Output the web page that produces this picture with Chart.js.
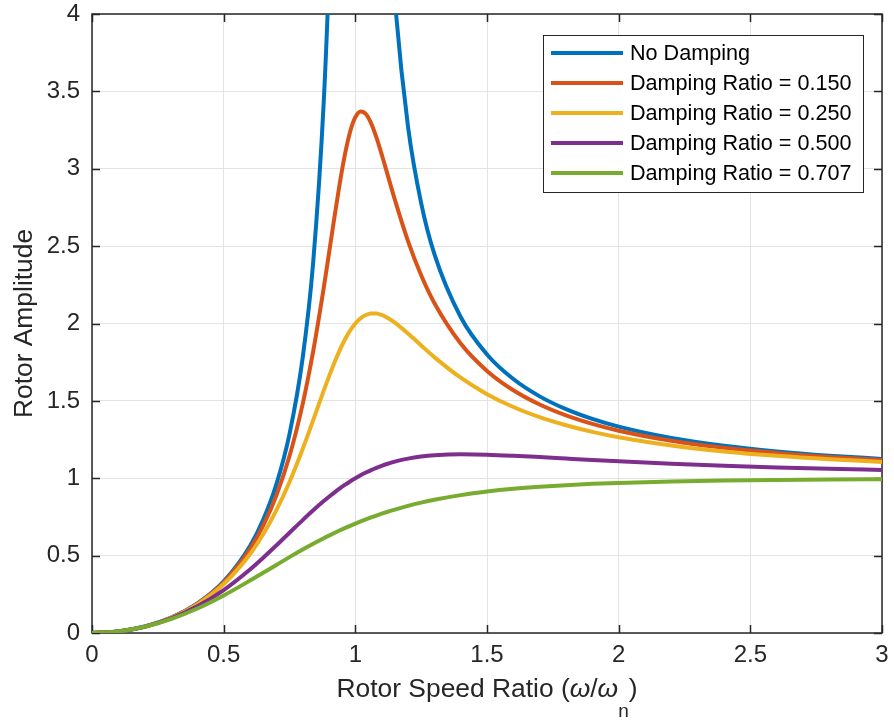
<!DOCTYPE html>
<html>
<head>
<meta charset="utf-8">
<script src="https://cdn.jsdelivr.net/npm/chart.js@4"></script>
<style>
  body { margin: 0; background: #fff; }
</style>
</head>
<body>
<canvas id="myChart" width="894" height="723"></canvas>
<script>
// speed ratio samples (omega / omega_n)
const speedRatio = [0, 0.1, 0.2, 0.3, 0.4, 0.5, 0.6, 0.65, 0.7, 0.75, 0.8, 0.84, 0.88, 0.9, 0.92, 0.94, 0.96, 0.98, 1.0, 1.02, 1.04, 1.06, 1.08, 1.1, 1.12, 1.15, 1.2, 1.25, 1.3, 1.4, 1.5, 1.6, 1.7, 1.8, 1.9, 2.0, 2.2, 2.4, 2.6, 2.8, 3.0];

const noDamping = [0, 0.0101, 0.0417, 0.0989, 0.1905, 0.3333, 0.5625, 0.7316, 0.9608, 1.2857, 1.7778, 2.3967, 3.4326, 4.2632, 5.5104, 7.591, null, null, null, null, null, 9.091, 7.010, 5.762, 4.931, 4.101, 3.2727, 2.7778, 2.4493, 2.0417, 1.8, 1.641, 1.5291, 1.4464, 1.3831, 1.3333, 1.2604, 1.2101, 1.1736, 1.1462, 1.125];
const damping150 = [0, 0.0101, 0.0416, 0.0984, 0.1886, 0.3269, 0.5415, 0.6931, 0.8884, 1.1434, 1.4792, 1.8208, 2.2300, 2.4534, 2.6797, 2.8963, 3.0877, 3.2374, 3.3333, 3.3707, 3.3539, 3.2933, 3.2024, 3.0934, 2.9764, 2.8003, 2.5329, 2.3112, 2.1322, 1.8705, 1.6936, 1.5685, 1.4763, 1.4061, 1.3513, 1.3074, 1.2422, 1.1965, 1.1630, 1.1377, 1.1179];
const damping250 = [0, 0.0101, 0.0414, 0.0976, 0.1853, 0.3162, 0.5093, 0.6376, 0.7922, 0.9762, 1.1893, 1.3757, 1.5661, 1.6582, 1.7453, 1.8249, 1.8949, 1.9536, 2.0, 2.0336, 2.0549, 2.0646, 2.0642, 2.0553, 2.0394, 2.0060, 1.9354, 1.8582, 1.7828, 1.6497, 1.5435, 1.4602, 1.3946, 1.3422, 1.2997, 1.2649, 1.2117, 1.1734, 1.1448, 1.1229, 1.1057];
const damping500 = [0, 0.0101, 0.0408, 0.0939, 0.1720, 0.2774, 0.4104, 0.4859, 0.5658, 0.6478, 0.7295, 0.7927, 0.8524, 0.8806, 0.9074, 0.9329, 0.9568, 0.9792, 1.0, 1.0192, 1.0368, 1.0529, 1.0674, 1.0805, 1.0922, 1.1073, 1.1267, 1.1399, 1.1483, 1.1546, 1.1523, 1.1456, 1.1369, 1.1275, 1.1182, 1.1094, 1.0936, 1.0805, 1.0697, 1.0608, 1.0534];
const damping707 = [0, 0.0100, 0.0400, 0.0896, 0.1580, 0.2425, 0.3387, 0.3892, 0.4400, 0.4903, 0.5391, 0.5765, 0.6123, 0.6294, 0.6461, 0.6621, 0.6777, 0.6927, 0.7071, 0.7210, 0.7343, 0.7470, 0.7592, 0.7708, 0.7819, 0.7976, 0.8214, 0.8423, 0.8606, 0.8908, 0.9138, 0.9315, 0.9450, 0.9555, 0.9637, 0.9701, 0.9793, 0.9853, 0.9892, 0.9920, 0.9939];

const seriesNames = ['No Damping', 'Damping Ratio = 0.150', 'Damping Ratio = 0.250', 'Damping Ratio = 0.500', 'Damping Ratio = 0.707'];
const seriesColors = ['#0072BD', '#D95319', '#EDB120', '#7E2F8E', '#77AC30'];
const seriesValues = [noDamping, damping150, damping250, damping500, damping707];

const FONT = '"Liberation Sans", Arial, Helvetica, sans-serif';
const INK = '#262626';

function toPoints(values) {
  return speedRatio.map((r, i) => ({ x: r, y: values[i] }));
}

const datasets = seriesValues.map((vals, i) => ({
  label: seriesNames[i],
  data: toPoints(vals),
  borderColor: seriesColors[i],
  backgroundColor: seriesColors[i],
  borderWidth: 4,
  pointRadius: 0,
  cubicInterpolationMode: 'monotone',
  spanGaps: false,
  clip: 0,
  order: seriesValues.length - 1 - i
}));

function noScalePadding(s) {
  s.paddingTop = 0;
  s.paddingBottom = 0;
  s.paddingLeft = 0;
  s.paddingRight = 0;
}

// axes box, inward ticks, axis titles and legend drawn MATLAB style
const matlabFrame = {
  id: 'matlabFrame',
  beforeDatasetsDraw(chart) {
    const { ctx, chartArea: a, scales } = chart;
    ctx.save();
    ctx.strokeStyle = INK;
    ctx.lineWidth = 1.5;
    ctx.strokeRect(a.left, a.top, a.right - a.left, a.bottom - a.top);
    const len = 8;
    ctx.beginPath();
    scales.x.ticks.forEach(t => {
      const px = Math.round(scales.x.getPixelForValue(t.value)) + 0.5;
      ctx.moveTo(px, a.bottom); ctx.lineTo(px, a.bottom - len);
      ctx.moveTo(px, a.top); ctx.lineTo(px, a.top + len);
    });
    scales.y.ticks.forEach(t => {
      const py = Math.round(scales.y.getPixelForValue(t.value)) + 0.5;
      ctx.moveTo(a.left, py); ctx.lineTo(a.left + len, py);
      ctx.moveTo(a.right, py); ctx.lineTo(a.right - len, py);
    });
    ctx.stroke();
    ctx.restore();
  },
  afterDraw(chart) {
    const { ctx, chartArea: a } = chart;
    ctx.save();
    ctx.fillStyle = INK;

    // y title
    ctx.save();
    ctx.translate(32, (a.top + a.bottom) / 2);
    ctx.rotate(-Math.PI / 2);
    ctx.font = '26.4px ' + FONT;
    ctx.textAlign = 'center';
    ctx.textBaseline = 'alphabetic';
    ctx.fillText('Rotor Amplitude', 0, 0);
    ctx.restore();

    // x title with italic omegas and subscript n
    const normal = '26.4px ' + FONT;
    const italic = 'italic 26.4px ' + FONT;
    const parts = [
      { t: 'Rotor Speed Ratio (', f: normal, dy: 0 },
      { t: 'ω', f: italic, dy: 0 },
      { t: '/', f: normal, dy: 0 },
      { t: 'ω', f: italic, dy: 0 },
      { t: 'n', f: '19px ' + FONT, dy: 20 },
      { t: ')', f: normal, dy: 0 }
    ];
    let total = 0;
    parts.forEach(p => { ctx.font = p.f; p.w = ctx.measureText(p.t).width; total += p.w; });
    let x = (a.left + a.right) / 2 - total / 2;
    const base = 697;
    ctx.textAlign = 'left';
    ctx.textBaseline = 'alphabetic';
    parts.forEach(p => { ctx.font = p.f; ctx.fillText(p.t, x, base + p.dy); x += p.w; });

    // legend box
    const bx = 543, by = 35, bw = 320, bh = 157;
    ctx.fillStyle = '#fff';
    ctx.fillRect(bx, by, bw, bh);
    ctx.strokeStyle = INK;
    ctx.lineWidth = 1;
    ctx.strokeRect(bx + 0.5, by + 0.5, bw, bh);
    ctx.font = '21.6px ' + FONT;
    ctx.textBaseline = 'middle';
    seriesNames.forEach((name, i) => {
      const y = 53 + i * 30;
      ctx.strokeStyle = seriesColors[i];
      ctx.lineWidth = 4;
      ctx.beginPath();
      ctx.moveTo(551, y); ctx.lineTo(623, y);
      ctx.stroke();
      ctx.fillStyle = '#000';
      ctx.fillText(name, 630, y + 1);
    });
    ctx.restore();
  }
};

new Chart(document.getElementById('myChart'), {
  type: 'line',
  data: { datasets },
  plugins: [matlabFrame],
  options: {
    responsive: false,
    animation: false,
    events: [],
    layout: { padding: { top: 14, right: 12, left: 0, bottom: 0 } },
    plugins: { legend: { display: false }, tooltip: { enabled: false } },
    scales: {
      x: {
        type: 'linear',
        min: 0,
        max: 3,
        afterFit: s => { s.height = 90; noScalePadding(s); },
        border: { display: false },
        grid: { color: '#e3e3e3', lineWidth: 1, drawTicks: false },
        ticks: {
          stepSize: 0.5,
          padding: 8,
          color: INK,
          maxRotation: 0,
          font: { family: FONT, size: 24 },
          callback: v => v.toString()
        }
      },
      y: {
        min: 0,
        max: 4,
        afterFit: s => { s.width = 92; noScalePadding(s); },
        border: { display: false },
        grid: { color: '#e3e3e3', lineWidth: 1, drawTicks: false },
        ticks: {
          stepSize: 0.5,
          padding: 12,
          color: INK,
          font: { family: FONT, size: 24 },
          callback: v => v.toString()
        }
      }
    }
  }
});
</script>
</body>
</html>
